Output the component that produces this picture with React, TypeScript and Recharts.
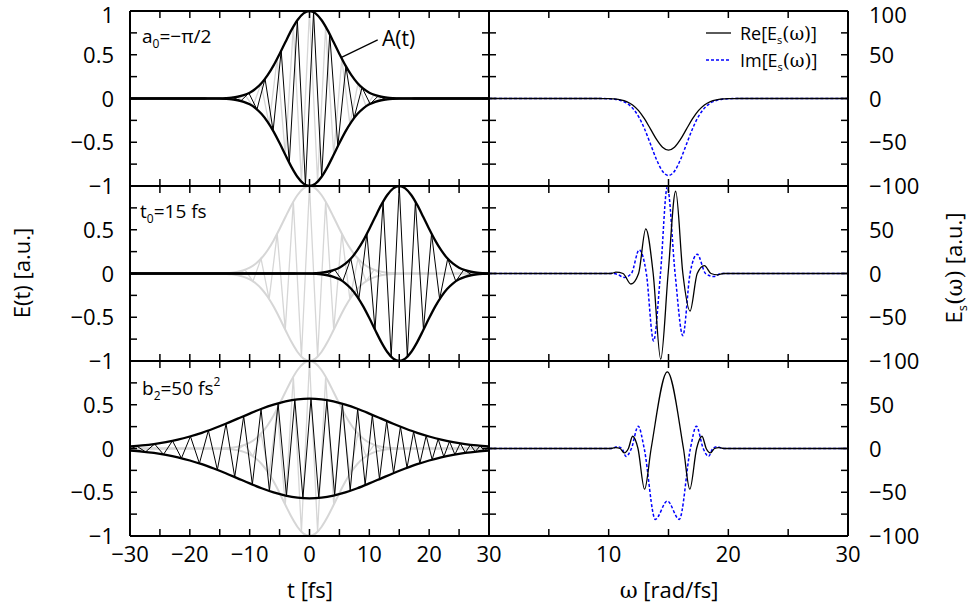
import React from 'react';
import { LineChart, Line, XAxis, YAxis, ReferenceLine } from 'recharts';

type P = [number, number];

const FONT = '"Open Sans", "Noto Sans", "DejaVu Sans", sans-serif';
const SERIF = '"DejaVu Serif", "Liberation Serif", serif';

// ---------- axis ticks / labels ----------
const tTicks = [-30, -25, -20, -15, -10, -5, 0, 5, 10, 15, 20, 25, 30];
const tLabels = [-30, -20, -10, 0, 10, 20, 30];
const eTicks = [-1, -0.75, -0.5, -0.25, 0, 0.25, 0.5, 0.75, 1];
const eLabelsTop = [-1, -0.5, 0, 0.5, 1];
const eLabelsLower = [-1, -0.5, 0, 0.5];
const wTicks = [0, 5, 10, 15, 20, 25, 30];
const wLabels = [10, 20, 30];
const sTicks = [-100, -75, -50, -25, 0, 25, 50, 75, 100];
const sLabelsTop = [-100, -50, 0, 50, 100];
const sLabelsLower = [-100, -50, 0, 50];

const T0 = 15; // delay of middle-row pulse [fs]

// ---------- time domain: envelope A(t) of reference pulse ----------
const envA: P[] = [[-30, 0], [-18, 0], [-17, 0.0004], [-16, 0.001], [-15, 0.002], [-14, 0.005], [-13, 0.01], [-12, 0.02], [-11, 0.038], [-10, 0.067], [-9, 0.112], [-8, 0.177], [-7, 0.266], [-6, 0.378], [-5, 0.509], [-4, 0.649], [-3, 0.784], [-2, 0.897], [-1, 0.973], [0, 1], [1, 0.973], [2, 0.897], [3, 0.784], [4, 0.649], [5, 0.509], [6, 0.378], [7, 0.266], [8, 0.177], [9, 0.112], [10, 0.067], [11, 0.038], [12, 0.02], [13, 0.01], [14, 0.005], [15, 0.002], [16, 0.001], [17, 0.0004], [18, 0], [30, 0]];

// reference carrier (grey), a0 = 0
const carrierRef: P[] = [[-30, 0], [-16.2, 0], [-14.85, -0.003], [-13.5, 0.007], [-12.15, -0.018], [-10.8, 0.043], [-9.45, -0.089], [-8.1, 0.17], [-6.75, -0.292], [-5.4, 0.455], [-4.05, -0.642], [-2.7, 0.821], [-1.35, -0.952], [0, 1], [1.35, -0.952], [2.7, 0.821], [4.05, -0.642], [5.4, 0.455], [6.75, -0.292], [8.1, 0.17], [9.45, -0.089], [10.8, 0.043], [12.15, -0.018], [13.5, 0.007], [14.85, -0.003], [16.2, 0], [30, 0]];

// a0 = -pi/2 carrier (black, top row)
const carrierPhase: P[] = [[-30, 0], [-15.5, 0], [-14.18, -0.004], [-12.83, 0.012], [-11.48, -0.028], [-10.13, 0.062], [-8.78, -0.125], [-7.43, 0.225], [-6.08, -0.368], [-4.73, 0.546], [-3.38, -0.734], [-2.03, 0.895], [-0.68, -0.988], [0.68, 0.988], [2.03, -0.895], [3.38, 0.734], [4.73, -0.546], [6.08, 0.368], [7.43, -0.225], [8.78, 0.125], [10.13, -0.062], [11.48, 0.028], [12.83, -0.012], [14.18, 0.004], [15.5, 0], [30, 0]];

// chirped pulse b2 = 50 fs^2 (bottom row)
const envChirp: P[] = [[-30, 0.023], [-28, 0.035], [-26, 0.051], [-24, 0.073], [-22, 0.101], [-20, 0.137], [-18, 0.179], [-16, 0.229], [-14, 0.283], [-12, 0.341], [-10, 0.399], [-8, 0.454], [-6, 0.501], [-4, 0.538], [-2, 0.562], [0, 0.57], [2, 0.562], [4, 0.538], [6, 0.501], [8, 0.454], [10, 0.399], [12, 0.341], [14, 0.283], [16, 0.229], [18, 0.179], [20, 0.137], [22, 0.101], [24, 0.073], [26, 0.051], [28, 0.035], [30, 0.023]];
const carrierChirp: P[] = [[-30, -0.011], [-28.9, 0.029], [-27.4, -0.039], [-25.9, 0.052], [-24.4, -0.068], [-22.9, 0.088], [-21.4, -0.111], [-19.9, 0.139], [-18.4, -0.17], [-16.9, 0.206], [-15.4, -0.244], [-13.95, 0.284], [-12.5, -0.326], [-11.0, 0.37], [-9.55, -0.412], [-8.1, 0.451], [-6.7, -0.486], [-5.25, 0.516], [-3.85, -0.541], [-2.45, 0.558], [-1.1, -0.568], [0.25, 0.57], [1.55, -0.565], [2.9, 0.553], [4.2, -0.535], [5.5, 0.512], [6.8, -0.483], [8.05, 0.452], [9.3, -0.418], [10.5, 0.385], [11.7, -0.35], [12.9, 0.315], [14.05, -0.282], [15.2, 0.25], [16.3, -0.221], [17.4, 0.193], [18.45, -0.169], [19.5, 0.147], [20.5, -0.127], [21.5, 0.109], [22.45, -0.094], [23.4, 0.081], [24.3, -0.069], [25.2, 0.059], [26.05, -0.05], [26.9, 0.043], [27.7, -0.037], [28.5, 0.031], [29.25, -0.027], [30, 0.023]];

// ---------- spectra ----------
const reTop: P[] = [[0, 0], [9, 0], [9.5, -0.05], [10, -0.18], [10.5, -0.54], [11, -1.45], [11.5, -3.5], [12, -7.4], [12.5, -13.9], [13, -23.4], [13.5, -35], [14, -46.8], [14.5, -55.7], [15, -59], [15.5, -55.7], [16, -46.8], [16.5, -35], [17, -23.4], [17.5, -13.9], [18, -7.4], [18.5, -3.5], [19, -1.45], [19.5, -0.54], [20, -0.18], [20.5, -0.05], [21, 0], [30, 0]];
const imTop: P[] = [[0, 0], [9, 0], [9.5, -0.08], [10, -0.27], [10.5, -0.8], [11, -2.2], [11.5, -5.2], [12, -11], [12.5, -20.7], [13, -34.8], [13.5, -52.3], [14, -69.8], [14.5, -83.1], [15, -88], [15.5, -83.1], [16, -69.8], [16.5, -52.3], [17, -34.8], [17.5, -20.7], [18, -11], [18.5, -5.2], [19, -2.2], [19.5, -0.8], [20, -0.27], [20.5, -0.08], [21, 0], [30, 0]];

const reMid: P[] = [[0, 0], [10, 0], [10.3, 0.3], [10.6, 1.5], [11.2, 0], [11.86, -12], [12.5, 0], [13.1, 51], [13.72, 0], [14.35, -98], [14.97, 0], [15.6, 94], [16.2, 0], [16.8, -43], [17.4, 0], [18.0, 9], [18.55, 0], [19.1, -1.5], [19.6, 0], [30, 0]];
const imMid: P[] = [[0, 0], [10.3, 0], [10.7, -0.8], [11.3, -4.5], [11.9, 0], [12.55, 27], [13.15, 0], [13.75, -77], [14.33, 0], [14.9, 99], [15.55, 0], [16.2, -71], [16.8, 0], [17.4, 22], [18.1, 0], [18.8, -3.5], [19.4, 0], [30, 0]];

const reBot: P[] = [[0, 0], [10, 0], [10.3, 0.3], [10.6, 1], [10.95, 0], [11.3, -5], [11.65, 0], [12.0, 14], [12.45, 0], [13.0, -46.5], [13.55, 0], [14.9, 87.6], [16.25, 0], [16.78, -46.5], [17.35, 0], [17.8, 14], [18.15, 0], [18.5, -5], [18.85, 0], [19.2, 1], [19.5, 0.3], [19.8, 0], [30, 0]];
const imBot: P[] = [[0, 0], [10.2, 0], [10.75, 2], [11.1, 0], [11.45, -9], [11.9, 0], [12.47, 25.5], [12.97, 0], [13.9, -81], [14.9, -60], [15.9, -81], [16.83, 0], [17.33, 25.5], [17.9, 0], [18.35, -9], [18.7, 0], [19.05, 2], [19.6, 0], [30, 0]];

// ---------- helpers ----------
const xy = (pts: P[]) => pts.map(([x, y]) => ({ x, y }));
const neg = (pts: P[]): P[] => pts.map(([x, y]) => [x, -y] as P);
const shiftPts = (pts: P[], dt: number): P[] => {
  const out = pts.map(([t, v]) => [t + dt, v] as P).filter(([t]) => t >= -30 && t <= 30);
  if (out[0][0] > -30) out.unshift([-30, 0]);
  if (out[out.length - 1][0] < 30) out.push([30, 0]);
  return out;
};

const fmt = (v: number) => (v < 0 ? '\u2212' + String(Math.abs(v)) : String(v));
const TL = 7;
function tickFactory(side: string, labels: number[], nudgeValue?: number) {
  return (props: any) => {
    const { x, y, payload } = props;
    const v = payload.value;
    const show = labels.some((l) => Math.abs(l - v) < 1e-9);
    let x2 = x, y2 = y, tx = x, ty = y;
    let anchor: any = 'middle';
    // keep the topmost label of the figure inside the page
    const nudge = nudgeValue !== undefined && Math.abs(v - nudgeValue) < 1e-9 ? 4 : 0;
    if (side === 'bottom') { y2 = y - TL; ty = y + 26; }
    else if (side === 'top') { y2 = y + TL; }
    else if (side === 'left') { x2 = x + TL; tx = x - 16; ty = y + 8 + nudge; anchor = 'end'; }
    else { x2 = x - TL; tx = x + 21; ty = y + 8 + nudge; anchor = 'start'; }
    return (
      <g>
        <line x1={x} y1={y} x2={x2} y2={y2} stroke="#000" strokeWidth={1.5} />
        {show && (
          <text x={tx} y={ty} textAnchor={anchor} fontFamily={FONT} fontSize={22} fill="#000">
            {fmt(v)}
          </text>
        )}
      </g>
    );
  };
}

const PW = 359;
const PH = 175;
const YW = 80;
const XH = 40;
const axisLine = { stroke: '#000', strokeWidth: 2 };

function Panel(props: {
  left: number; top: number; xDomain: number[]; xTicks: number[]; xLabels: number[];
  yDomain: number[]; yTicks: number[]; yLabelsL: number[]; yLabelsR: number[]; children: any;
}) {
  const { left, top, xDomain, xTicks, xLabels, yDomain, yTicks, yLabelsL, yLabelsR, children } = props;
  const yMax = yDomain[1];
  return (
    <div style={{ position: 'absolute', left: left - YW, top: top - XH }}>
      <LineChart width={PW + 2 * YW} height={PH + 2 * XH} margin={{ top: 0, right: 0, bottom: 0, left: 0 }}>
        <XAxis xAxisId="b" orientation="bottom" type="number" dataKey="x" domain={xDomain} ticks={xTicks} interval={0}
          height={XH} tickSize={0} tickMargin={0} tickLine={false} axisLine={axisLine} tick={tickFactory('bottom', xLabels)} allowDataOverflow />
        <XAxis xAxisId="t" orientation="top" type="number" dataKey="x" domain={xDomain} ticks={xTicks} interval={0}
          height={XH} tickSize={0} tickMargin={0} tickLine={false} axisLine={axisLine} tick={tickFactory('top', [])} allowDataOverflow />
        <YAxis yAxisId="l" orientation="left" type="number" domain={yDomain} ticks={yTicks} interval={0}
          width={YW} tickSize={0} tickMargin={0} tickLine={false} axisLine={axisLine} tick={tickFactory('left', yLabelsL, yMax)} allowDataOverflow />
        <YAxis yAxisId="r" orientation="right" type="number" domain={yDomain} ticks={yTicks} interval={0}
          width={YW} tickSize={0} tickMargin={0} tickLine={false} axisLine={axisLine} tick={tickFactory('right', yLabelsR, yMax)} allowDataOverflow />
        {children}
      </LineChart>
    </div>
  );
}

const GREY = '#d6d6d6';

function mkLine(key: string, pts: P[], stroke: string, width: number, type: any, dash?: string) {
  return (
    <Line key={key} xAxisId="b" yAxisId="l" data={xy(pts)} dataKey="y" type={type} stroke={stroke}
      strokeWidth={width} strokeDasharray={dash} dot={false} activeDot={false} isAnimationActive={false} />
  );
}

function refGrey(prefix: string) {
  return [
    mkLine(prefix + 'gc', carrierRef, GREY, 1.3, 'linear'),
    mkLine(prefix + 'ge1', envA, GREY, 2, 'monotone'),
    mkLine(prefix + 'ge2', neg(envA), GREY, 2, 'monotone'),
  ];
}

const ROWS = [11, 186, 361];
const LX = 130;
const RX = 489;

export default function App() {
  const envShift = shiftPts(envA, T0);
  const carShift = shiftPts(carrierRef, T0);
  return (
    <div style={{ position: 'absolute', left: 0, top: 0, width: 974, height: 614, background: '#fff', overflow: 'hidden' }}>
      {/* left column: time domain */}
      <Panel left={LX} top={ROWS[0]} xDomain={[-30, 30]} xTicks={tTicks} xLabels={[]} yDomain={[-1, 1]} yTicks={eTicks} yLabelsL={eLabelsTop} yLabelsR={[]}>
        {mkLine('p1gc', carrierRef, GREY, 1.3, 'linear')}
        {mkLine('p1c', carrierPhase, '#000', 1, 'linear')}
        {mkLine('p1e1', envA, '#000', 2.3, 'monotone')}
        {mkLine('p1e2', neg(envA), '#000', 2.3, 'monotone')}
        <ReferenceLine xAxisId="b" yAxisId="l" segment={[{ x: 5.35, y: 0.47 }, { x: 11.4, y: 0.67 }]} stroke="#000" strokeWidth={1.2} />
      </Panel>
      <Panel left={LX} top={ROWS[1]} xDomain={[-30, 30]} xTicks={tTicks} xLabels={[]} yDomain={[-1, 1]} yTicks={eTicks} yLabelsL={eLabelsLower} yLabelsR={[]}>
        {refGrey('p2')}
        {mkLine('p2c', carShift, '#000', 1, 'linear')}
        {mkLine('p2e1', envShift, '#000', 2.3, 'monotone')}
        {mkLine('p2e2', neg(envShift), '#000', 2.3, 'monotone')}
      </Panel>
      <Panel left={LX} top={ROWS[2]} xDomain={[-30, 30]} xTicks={tTicks} xLabels={tLabels} yDomain={[-1, 1]} yTicks={eTicks} yLabelsL={eLabelsLower} yLabelsR={[]}>
        {refGrey('p3')}
        {mkLine('p3c', carrierChirp, '#000', 1, 'linear')}
        {mkLine('p3e1', envChirp, '#000', 2.3, 'monotone')}
        {mkLine('p3e2', neg(envChirp), '#000', 2.3, 'monotone')}
      </Panel>

      {/* right column: spectra */}
      <Panel left={RX} top={ROWS[0]} xDomain={[0, 30]} xTicks={wTicks} xLabels={[]} yDomain={[-100, 100]} yTicks={sTicks} yLabelsL={[]} yLabelsR={sLabelsTop}>
        {mkLine('s1i', imTop, '#0000ff', 1.5, 'monotone', '3 2')}
        {mkLine('s1r', reTop, '#000', 1.3, 'monotone')}
      </Panel>
      <Panel left={RX} top={ROWS[1]} xDomain={[0, 30]} xTicks={wTicks} xLabels={[]} yDomain={[-100, 100]} yTicks={sTicks} yLabelsL={[]} yLabelsR={sLabelsLower}>
        {mkLine('s2i', imMid, '#0000ff', 1.5, 'monotone', '3 2')}
        {mkLine('s2r', reMid, '#000', 1.3, 'monotone')}
      </Panel>
      <Panel left={RX} top={ROWS[2]} xDomain={[0, 30]} xTicks={wTicks} xLabels={wLabels} yDomain={[-100, 100]} yTicks={sTicks} yLabelsL={[]} yLabelsR={sLabelsLower}>
        {mkLine('s3i', imBot, '#0000ff', 1.5, 'monotone', '3 2')}
        {mkLine('s3r', reBot, '#000', 1.3, 'monotone')}
      </Panel>

      {/* text overlay */}
      <svg width={974} height={614} style={{ position: 'absolute', left: 0, top: 0, pointerEvents: 'none' }}>
        <g fontFamily={FONT} fill="#000">
          <text x={142} y={43} fontSize={19}>a<tspan fontSize={12} dy={5}>0</tspan><tspan dy={-5}>={'\u2212'}π/2</tspan></text>
          <text x={140} y={218} fontSize={19}>t<tspan fontSize={12} dy={5}>0</tspan><tspan dy={-5}>=15 fs</tspan></text>
          <text x={142} y={395} fontSize={19}>b<tspan fontSize={12} dy={5}>2</tspan><tspan dy={-5}>=50 fs</tspan><tspan fontSize={12} dy={-9}>2</tspan></text>
          <text x={382} y={46} fontSize={21}>A(t)</text>

          {/* legend */}
          <line x1={706} y1={33} x2={731} y2={33} stroke="#000" strokeWidth={1.3} />
          <text x={740} y={40} fontSize={18}>Re[E<tspan fontSize={11} dy={4}>s</tspan><tspan dy={-4} fontFamily={SERIF}>(ω)</tspan>]</text>
          <line x1={706} y1={60} x2={731} y2={60} stroke="#0000ff" strokeWidth={1.5} strokeDasharray="3 2" />
          <text x={740} y={67} fontSize={18}>Im[E<tspan fontSize={11} dy={4}>s</tspan><tspan dy={-4} fontFamily={SERIF}>(ω)</tspan>]</text>

          {/* axis titles */}
          <text x={310} y={598} fontSize={22} textAnchor="middle">t [fs]</text>
          <text x={669} y={598} fontSize={22} textAnchor="middle"><tspan fontFamily={SERIF}>ω</tspan> [rad/fs]</text>
          <text x={30} y={273} fontSize={22} textAnchor="middle" transform="rotate(-90 30 273)">E(t) [a.u.]</text>
          <text x={962} y={268} fontSize={22} textAnchor="middle" transform="rotate(-90 962 268)">E<tspan fontSize={13} dy={5}>s</tspan><tspan dy={-5} fontFamily={SERIF}>(ω)</tspan> [a.u.]</text>
        </g>
      </svg>
    </div>
  );
}
